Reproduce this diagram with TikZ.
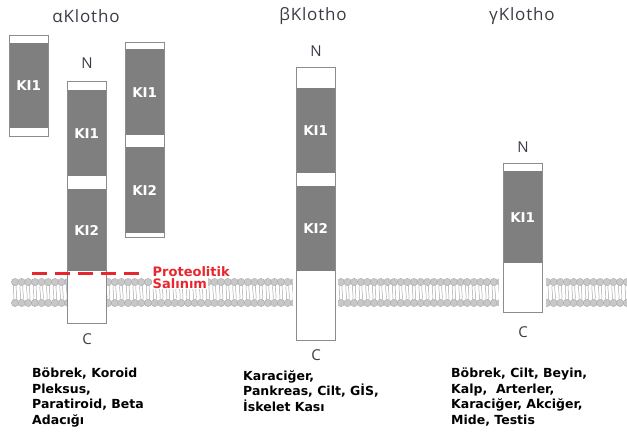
\documentclass[tikz,border=0pt]{standalone}
\usepackage{fontspec}
\setmainfont{DejaVu Sans}
\newfontfamily\labelfont{Open Sans}
\newfontfamily\namefont[LetterSpace=5]{Open Sans}
\usetikzlibrary{positioning}

\definecolor{klgray}{HTML}{7F7F7F}
\definecolor{klline}{HTML}{8C8C8C}
\definecolor{klred}{HTML}{E8262E}
\definecolor{klhead}{HTML}{C8C8C8}
\definecolor{kltail}{HTML}{A8A8A8}
\definecolor{klname}{HTML}{3B3B45}

\tikzset{
  shell/.style={draw=klline, fill=white, line width=1pt, inner sep=0pt,
    minimum width=39pt, anchor=north west},
  dom/.style={fill=klgray, text=white, inner sep=0pt, minimum width=38pt,
    anchor=north west, font=\fontsize{13.5}{14}\selectfont\bfseries},
  term/.style={text=klname, inner sep=0pt, font=\labelfont\fontsize{15}{15}\selectfont},
  kltitle/.style={text=klname, inner sep=0pt, font=\namefont\fontsize{17}{17}\selectfont},
  tissue/.style={anchor=north west, align=left, inner sep=0pt,
    font=\fontsize{12.5}{15.5}\selectfont\bfseries},
  cutlbl/.style={anchor=north west, fill=white, inner sep=0.5pt, text=klred,
    font=\fontsize{13}{13}\selectfont\bfseries},
  head/.style={fill=klhead, draw=kltail, line width=0.4pt},
  tail/.style={draw=kltail, line width=0.5pt},
}

\begin{document}
\begin{tikzpicture}[x=1pt, y=-1pt]
\useasboundingbox (0,0) rectangle (627,432);

% lipid bilayer
\foreach \i in {0,...,92}{
  \pgfmathsetmacro{\x}{15+6.65*\i}
  \draw[tail] (\x-1.4,284) .. controls (\x-2.6,289) and (\x-0.2,295) .. (\x-1.4,301);
  \draw[tail] (\x+1.4,284) .. controls (\x+0.2,289) and (\x+2.6,295) .. (\x+1.4,301);
  \filldraw[head] (\x,282) circle (3.6);
  \filldraw[head] (\x,303) circle (3.6);
}

% alpha
\node[kltitle] (atitle) at (86,16) {αKlotho};

\node[shell, minimum height=101pt] (a1) at (9,35) {};
\node[dom, minimum height=85pt] (a1k1) at (9.5,43) {KI1};

\node[shell, minimum height=242pt] (a2) at (67,81) {};
\node[dom, minimum height=86pt] (a2k1) at (67.5,90) {KI1};
\node[dom, minimum height=82pt] (a2k2) at (67.5,189) {KI2};
\node[term, above=12pt of a2] (aN) {N};
\node[term, below=9pt of a2] (aC) {C};

\node[shell, minimum height=195pt] (a3) at (125,42) {};
\node[dom, minimum height=86pt] (a3k1) at (125.5,49) {KI1};
\node[dom, minimum height=86pt] (a3k2) at (125.5,147) {KI2};

\draw[klred, line width=3pt, dash pattern=on 15pt off 8pt] (32,273) -- (139,273);
\node[cutlbl] (prot) at (152,265.5) {Proteolitik};
\node[cutlbl] (salinim) at (152,277.5) {Salınım};

\node[tissue] (atis) at (32,368) {Böbrek, Koroid\\Pleksus,\\Paratiroid, Beta\\Adacığı};

% beta
\node[kltitle] (btitle) at (313,16) {βKlotho};

\fill[white] (293,276) rectangle (338,310);
\node[shell, minimum height=273pt] (b1) at (296,67) {};
\node[dom, minimum height=85pt] (b1k1) at (296.5,88) {KI1};
\node[dom, minimum height=85pt] (b1k2) at (296.5,186) {KI2};
\node[term, above=10pt of b1] (bN) {N};
\node[term, below=8pt of b1] (bC) {C};

\node[tissue] (btis) at (243,370) {Karaciğer,\\Pankreas, Cilt, GİS,\\İskelet Kası};

% gamma
\node[kltitle] (gtitle) at (522,16) {γKlotho};

\fill[white] (499,276) rectangle (546,310);
\node[shell, minimum height=149pt] (g1) at (503,163) {};
\node[dom, minimum height=92pt] (g1k1) at (503.5,171) {KI1};
\node[term, above=10pt of g1] (gN) {N};
\node[term, below=13pt of g1] (gC) {C};

\node[tissue] (gtis) at (451,368) {Böbrek, Cilt, Beyin,\\Kalp,\ \ Arterler,\\Karaciğer, Akciğer,\\Mide, Testis};
\end{tikzpicture}
\end{document}
